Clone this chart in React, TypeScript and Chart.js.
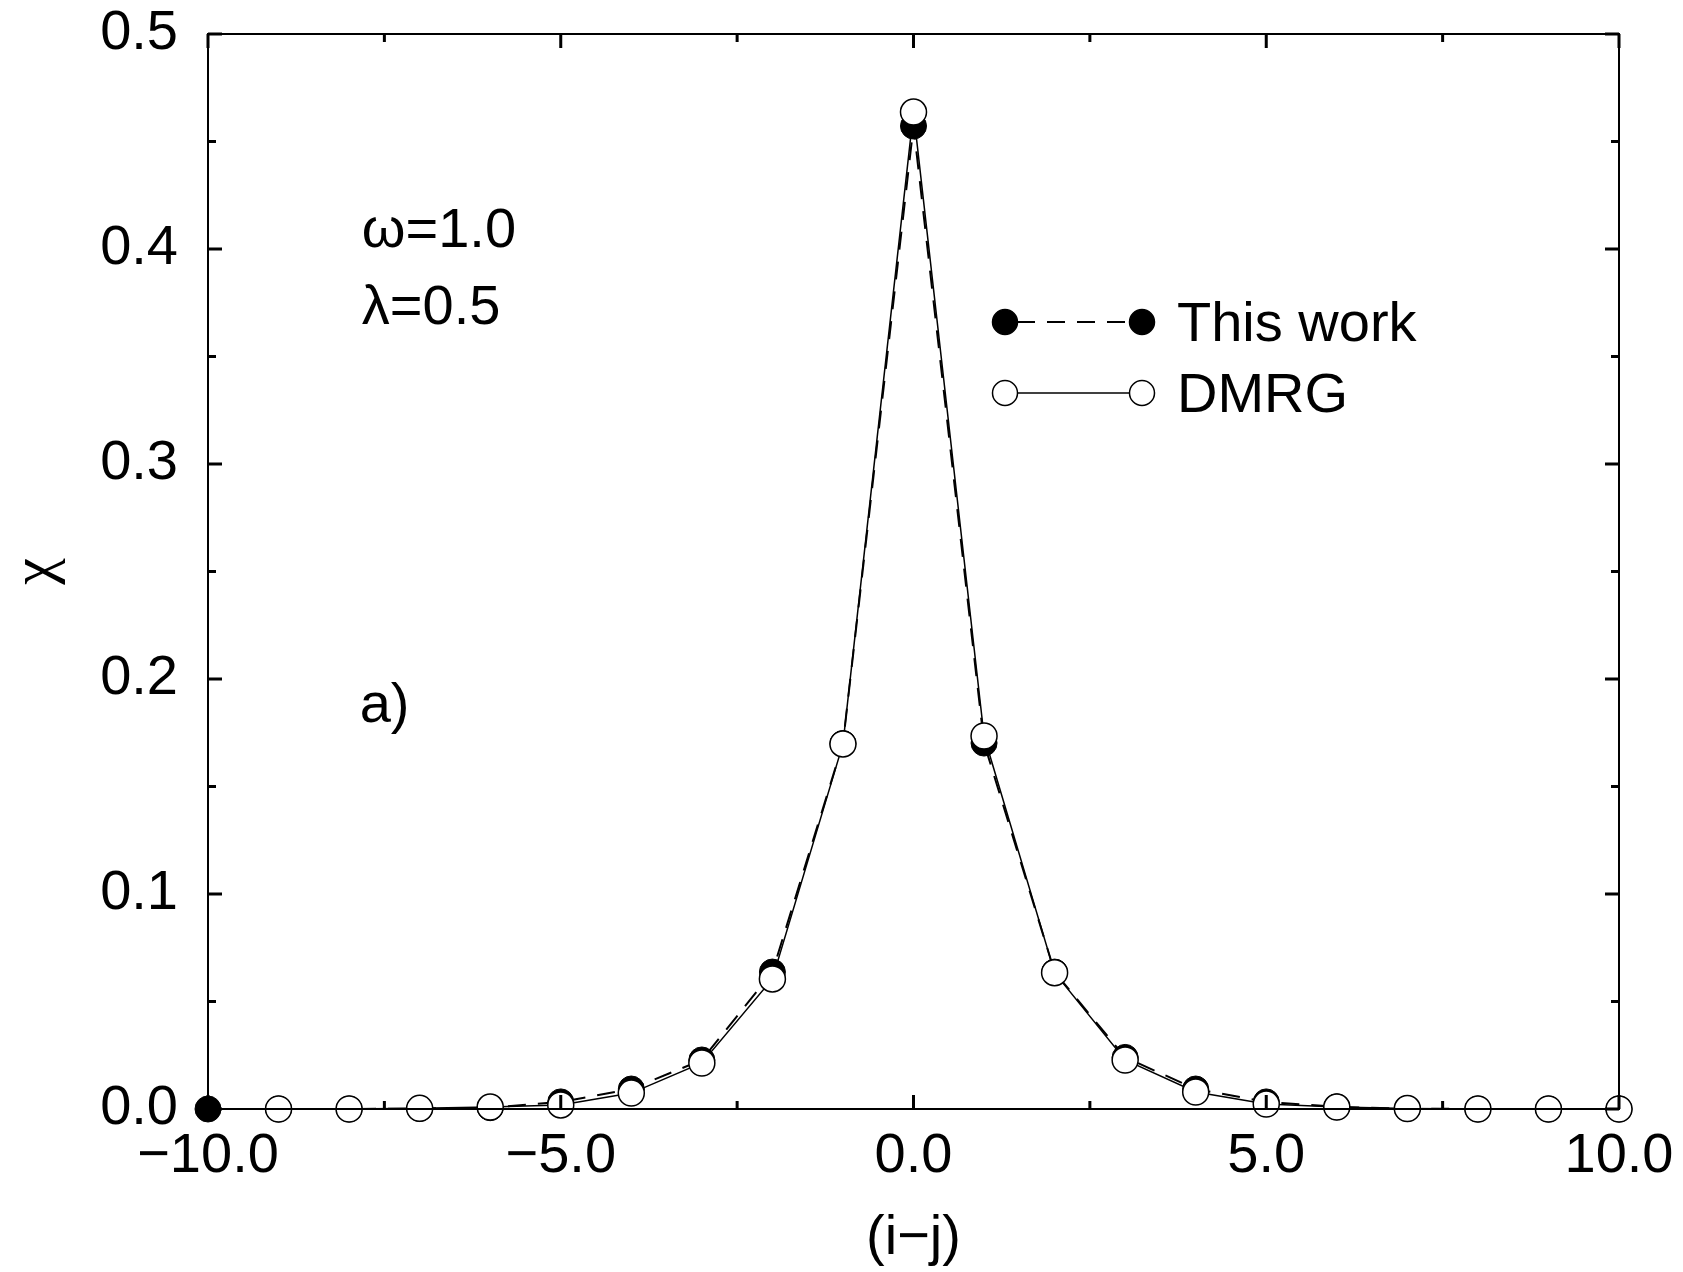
import React, { useEffect, useRef } from "react";
import { Chart, registerables } from "chart.js";

Chart.register(...registerables);

// ---- data ----
const thisWorkX = [-10, -9, -8, -7, -6, -5, -4, -3, -2, -1, 0, 1, 2, 3, 4, 5, 6, 7, 8, 9, 10];
const thisWorkY = [0, 0, 0, 0.0002, 0.0006, 0.0033, 0.0093, 0.0228, 0.0637, 0.170, 0.4572, 0.1702, 0.0637, 0.024, 0.0093, 0.0033, 0.001, 0.0002, 0, 0, 0];
const dmrgX = [-9, -8, -7, -6, -5, -4, -3, -2, -1, 0, 1, 2, 3, 4, 5, 6, 7, 8, 9, 10];
const dmrgY = [0, 0, 0.0003, 0.0009, 0.0019, 0.0074, 0.0214, 0.0605, 0.1698, 0.4637, 0.1735, 0.0634, 0.0228, 0.0079, 0.0023, 0.0009, 0.0002, 0, 0, 0];

const xMajorTicks = [-10, -5, 0, 5, 10];
const xMinorTicks = [-7.5, -2.5, 2.5, 7.5];
const yMajorTicks = [0, 0.1, 0.2, 0.3, 0.4, 0.5];
const yMinorTicks = [0.05, 0.15, 0.25, 0.35, 0.45];

const seriesNames = ["This work", "DMRG"];
const annotations = ["ω=1.0", "λ=0.5", "a)"];
const xTitle = "(i\u2212j)";
const yTitle = "χ";

const FONT = "'Liberation Sans', Arial, sans-serif";
const FS = 56;

const fmt = (v: number) => {
  const s = Math.abs(v).toFixed(1);
  return v < 0 ? "\u2212" + s : s;
};

const framePlugin = {
  id: "frameTicks",
  afterDatasetsDraw(chart: any) {
    const { ctx, chartArea: a, scales } = chart;
    const xs = scales.x;
    const ys = scales.y;
    ctx.save();
    ctx.strokeStyle = "#000";
    ctx.lineWidth = 2;
    ctx.strokeRect(a.left, a.top, a.right - a.left, a.bottom - a.top);
    ctx.lineWidth = 3;
    const drawX = (vals: number[], len: number) => {
      vals.forEach((v) => {
        const px = xs.getPixelForValue(v);
        ctx.beginPath();
        ctx.moveTo(px, a.bottom);
        ctx.lineTo(px, a.bottom - len);
        ctx.moveTo(px, a.top);
        ctx.lineTo(px, a.top + len);
        ctx.stroke();
      });
    };
    const drawY = (vals: number[], len: number) => {
      vals.forEach((v) => {
        const py = ys.getPixelForValue(v);
        ctx.beginPath();
        ctx.moveTo(a.left, py);
        ctx.lineTo(a.left + len, py);
        ctx.moveTo(a.right, py);
        ctx.lineTo(a.right - len, py);
        ctx.stroke();
      });
    };
    drawX(xMajorTicks, 14);
    drawX(xMinorTicks, 8);
    drawY(yMajorTicks, 14);
    drawY(yMinorTicks, 8);
    ctx.restore();
  },
  afterDraw(chart: any) {
    const { ctx, scales } = chart;
    const xs = scales.x;
    const ys = scales.y;
    ctx.save();
    ctx.fillStyle = "#000";
    ctx.font = `${FS}px ${FONT}`;
    ctx.textBaseline = "alphabetic";
    ctx.textAlign = "left";
    // annotations positioned in data space
    ctx.fillText(annotations[0], xs.getPixelForValue(-7.82), ys.getPixelForValue(0.401));
    ctx.fillText(annotations[1], xs.getPixelForValue(-7.82), ys.getPixelForValue(0.365));
    ctx.fillText(annotations[2], xs.getPixelForValue(-7.85), ys.getPixelForValue(0.180));

    // legend
    const legendRows = [
      { y: 322, dash: [18, 12], fill: "#000", lw: 2 },
      { y: 393, dash: [], fill: "#fff", lw: 1.5 },
    ];
    const x1 = 1005;
    const x2 = 1142;
    legendRows.forEach((r, i) => {
      ctx.save();
      ctx.strokeStyle = "#000";
      ctx.lineWidth = r.lw;
      ctx.setLineDash(r.dash);
      ctx.beginPath();
      ctx.moveTo(x1 + 12, r.y);
      ctx.lineTo(x2 - 12, r.y);
      ctx.stroke();
      ctx.setLineDash([]);
      [x1, x2].forEach((cx) => {
        ctx.beginPath();
        ctx.arc(cx, r.y, 12.5, 0, Math.PI * 2);
        ctx.fillStyle = r.fill;
        ctx.fill();
        ctx.lineWidth = 1.5;
        ctx.stroke();
      });
      ctx.restore();
      ctx.fillStyle = "#000";
      ctx.fillText(seriesNames[i], 1177, r.y + 19);
    });
    ctx.restore();
  },
};

export default function App() {
  const ref = useRef<HTMLCanvasElement | null>(null);
  useEffect(() => {
    if (!ref.current) return;
    const chart = new Chart(ref.current, {
      type: "line",
      data: {
        datasets: [
          {
            label: seriesNames[0],
            data: thisWorkX.map((x, i) => ({ x, y: thisWorkY[i] })),
            borderColor: "#000",
            borderWidth: 2,
            borderDash: [18, 12],
            pointRadius: 13,
            pointBackgroundColor: "#000",
            pointBorderColor: "#000",
            pointBorderWidth: 1,
            tension: 0,
            clip: false,
            order: 1,
          },
          {
            label: seriesNames[1],
            data: dmrgX.map((x, i) => ({ x, y: dmrgY[i] })),
            borderColor: "#000",
            borderWidth: 1.5,
            pointRadius: 13,
            pointBackgroundColor: "#fff",
            pointBorderColor: "#000",
            pointBorderWidth: 1.5,
            tension: 0,
            clip: false,
            order: 0,
          },
        ],
      },
      options: {
        responsive: false,
        animation: false,
        events: [],
        layout: { padding: { top: 34, right: 64, left: 0, bottom: 0 } },
        plugins: { legend: { display: false }, tooltip: { enabled: false } },
        scales: {
          x: {
            type: "linear",
            min: -10,
            max: 10,
            afterFit: (s: any) => {
              s.height = 163;
              s.paddingLeft = 0;
              s.paddingRight = 0;
              s.paddingTop = 0;
              s.paddingBottom = 0;
            },
            afterBuildTicks: (s: any) => {
              s.ticks = xMajorTicks.map((v) => ({ value: v }));
            },
            grid: { display: false, drawTicks: false },
            border: { display: false },
            ticks: {
              color: "#000",
              padding: 14,
              maxRotation: 0,
              font: { family: FONT, size: FS },
              callback: (v: any) => fmt(Number(v)),
            },
            title: {
              display: true,
              text: xTitle,
              color: "#000",
              font: { family: FONT, size: FS },
              padding: { top: 0, bottom: 0 },
            },
          },
          y: {
            type: "linear",
            min: 0,
            max: 0.5,
            afterFit: (s: any) => {
              s.width = 208;
              s.paddingLeft = 0;
              s.paddingRight = 0;
              s.paddingTop = 0;
              s.paddingBottom = 0;
            },
            afterBuildTicks: (s: any) => {
              s.ticks = yMajorTicks.map((v) => ({ value: v }));
            },
            grid: { display: false, drawTicks: false },
            border: { display: false },
            ticks: {
              color: "#000",
              padding: 30,
              font: { family: FONT, size: FS },
              callback: (v: any) => Number(v).toFixed(1),
            },
            title: {
              display: true,
              text: yTitle,
              color: "#000",
              font: { family: "'Liberation Serif', serif", size: 60 },
              padding: { top: 0, bottom: 0 },
            },
          },
        },
      },
      plugins: [framePlugin],
    });
    return () => chart.destroy();
  }, []);
  return (
    <div style={{ position: "absolute", left: 0, top: 0, width: 1683, height: 1272, background: "#fff" }}>
      <canvas ref={ref} width={1683} height={1272} style={{ display: "block" }} />
    </div>
  );
}
